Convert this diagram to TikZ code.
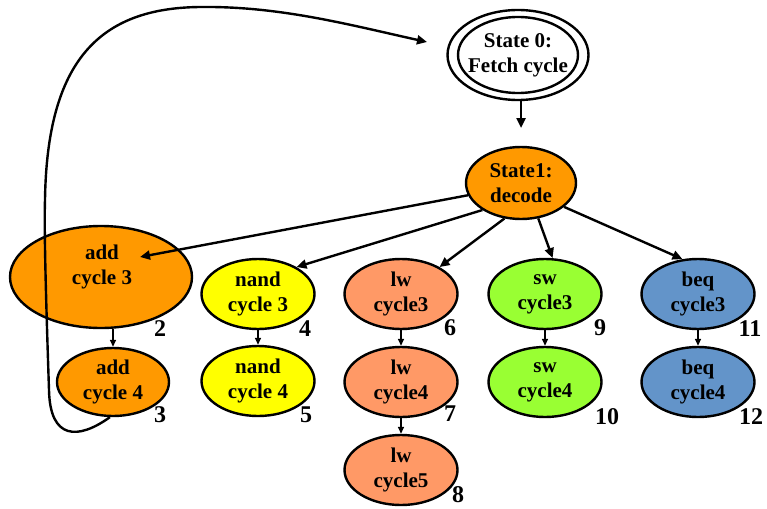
\documentclass[tikz,border=0pt]{standalone}
\usepackage{fontspec}
\setmainfont{Liberation Serif}
\usetikzlibrary{arrows.meta,shapes.geometric}
\definecolor{addorange}{HTML}{FF9900}
\definecolor{nandyellow}{HTML}{FFFF00}
\definecolor{lwsalmon}{HTML}{FF9966}
\definecolor{swgreen}{HTML}{99FF33}
\definecolor{beqblue}{HTML}{6394C9}
\begin{document}
\begin{tikzpicture}[x=1pt,y=-1pt,
  state/.style={ellipse, draw, line width=2.4pt, inner sep=0pt, align=center,
    font=\fontsize{21}{25}\selectfont\bfseries},
  small/.style={state, minimum width=113pt, minimum height=70pt},
  num/.style={inner sep=0pt, font=\fontsize{24}{24}\selectfont\bfseries},
  flow/.style={line width=2.4pt, -{Triangle[length=10pt,width=9pt]}},
  chain/.style={line width=1.5pt, -{Triangle[length=7pt,width=6pt]}}]
\useasboundingbox (0,0) rectangle (767,508);

% fetch and decode states
\node[state, minimum width=138pt, minimum height=90pt] (s0) at (518,55) {State 0:\\Fetch cycle};
\draw[line width=2.4pt] (s0.center) ellipse [x radius=60pt, y radius=38pt];
\node[state, fill=addorange, minimum width=110pt, minimum height=72pt] (s1) at (521,183) {State1:\\decode};

% add
\node[state, fill=addorange, minimum width=182pt, minimum height=102pt] (add3) at (101,277) {};
\node[inner sep=0pt, align=center, font=\fontsize{21}{25}\selectfont\bfseries] (add3txt) at (102,267) {add\\cycle 3};
\node[state, fill=addorange, minimum width=112pt, minimum height=68pt] (add4) at (113,382) {add\\cycle 4};

% nand
\node[small, fill=nandyellow] (nand3) at (258,294) {nand\\cycle 3};
\node[small, fill=nandyellow] (nand4) at (258,381) {nand\\cycle 4};

% lw
\node[small, fill=lwsalmon] (lw3) at (401,294) {lw\\cycle3};
\node[small, fill=lwsalmon] (lw4) at (401,382) {lw\\cycle4};
\node[small, fill=lwsalmon] (lw5) at (401,470) {lw\\cycle5};

% sw
\node[small, fill=swgreen] (sw3) at (545,294) {sw\\cycle3};
\node[small, fill=swgreen] (sw4) at (545,382) {sw\\cycle4};

% beq
\node[small, fill=beqblue] (beq3) at (698,294) {beq\\cycle3};
\node[small, fill=beqblue] (beq4) at (698,382) {beq\\cycle4};

% state numbers
\node[num] (n2) at (160,329) {2};
\node[num] (n3) at (160,415) {3};
\node[num] (n4) at (305,329) {4};
\node[num] (n5) at (306,415) {5};
\node[num] (n6) at (450,328) {6};
\node[num] (n7) at (450,414) {7};
\node[num] (n8) at (458,495) {8};
\node[num] (n9) at (600,328) {9};
\node[num] (n10) at (607,417) {10};
\node[num] (n11) at (750,329) {11};
\node[num] (n12) at (751,417) {12};

% free arrow ends
\coordinate (s1in) at (521,128);
\coordinate (addtip) at (140,257);
\coordinate (s0tip) at (427,42);

% transitions
\draw[flow] (s1in |- s0.south) -- (s1in);
\draw[flow] (s1.193) -- (addtip);
\draw[flow] (s1.215) -- (nand3.35);
\draw[flow] (s1.245) -- (lw3.35);
\draw[flow] (s1.296) -- (sw3.78);
\draw[flow] (s1.331) -- (beq3.114);

\draw[chain] (add4.north |- add3.south) -- (add4.north);
\draw[chain] (nand3) -- (nand4);
\draw[chain] (lw3) -- (lw4);
\draw[chain] (lw4) -- (lw5);
\draw[chain] (sw3) -- (sw4);
\draw[chain] (beq3) -- (beq4);

% return to fetch
\draw[flow] (add4.265) .. controls (78,440) and (50,440) .. (49,390)
  .. controls (46,300) and (44,230) .. (45,200)
  .. controls (47,60) and (100,8) .. (200,7)
  .. controls (280,6) and (350,25) .. (s0tip);
\end{tikzpicture}
\end{document}
